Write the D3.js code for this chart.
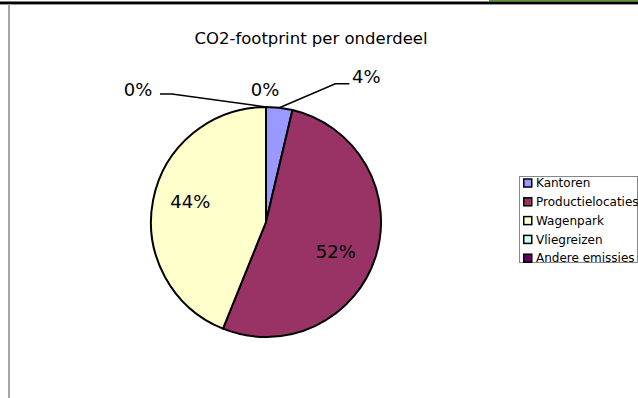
<!DOCTYPE html>
<html>
<head>
<meta charset="utf-8">
<script src="https://cdn.jsdelivr.net/npm/d3@7"></script>
<style>
  body { margin: 0; background: #fff; }
  svg text { font-family: "DejaVu Sans", sans-serif; }
</style>
</head>
<body>
<div id="main"></div>
<script>
var categories = ["Kantoren", "Productielocaties", "Wagenpark", "Vliegreizen", "Andere emissies"];
var values = [3.7, 52.4, 43.9, 0, 0];
var colors = ["#9999ff", "#993366", "#ffffcc", "#ccffff", "#660066"];
var title = "CO2-footprint per onderdeel";

var width = 638, height = 398;

var svg = d3.select("#main").append("svg")
    .attr("width", width)
    .attr("height", height);

// page frame bits
svg.append("rect").attr("x", 489).attr("y", 0).attr("width", 149).attr("height", 1.5).attr("fill", "#5a9a1a");
svg.append("rect").attr("x", 0).attr("y", 1.5).attr("width", width).attr("height", 2.5).attr("fill", "#000");
svg.append("rect").attr("x", 0).attr("y", 4).attr("width", width).attr("height", 1).attr("fill", "#999");
svg.append("rect").attr("x", 8).attr("y", 4).attr("width", 2).attr("height", height).attr("fill", "#a6a6a6");

svg.append("text")
    .attr("x", 311)
    .attr("y", 44)
    .attr("text-anchor", "middle")
    .attr("font-size", 16.5)
    .attr("fill", "#000")
    .text(title);

var cx = 266, cy = 222, r = 115;
var total = d3.sum(values);

var pie = d3.pie().sort(null).value(function(d) { return d; });
var arcs = pie(values);
var arc = d3.arc().innerRadius(0).outerRadius(r);

var g = svg.append("g").attr("transform", "translate(" + cx + "," + cy + ")");

g.selectAll("path")
    .data(arcs)
    .enter().append("path")
    .attr("d", arc)
    .attr("fill", function(d, i) { return colors[i]; })
    .attr("stroke", "#000")
    .attr("stroke-width", 2)
    .attr("stroke-linejoin", "round");

function pct(v) { return Math.round(v / total * 100) + "%"; }

var fs = 18;

// inside labels for the big slices
var inner = d3.arc().innerRadius(r * 0.6).outerRadius(r * 0.6);
var nudge = {1: [4, 9], 2: [-8, -7]};
[1, 2].forEach(function(i) {
    var c = inner.centroid(arcs[i]);
    g.append("text")
        .attr("x", c[0] + nudge[i][0])
        .attr("y", c[1] + nudge[i][1])
        .attr("dy", "0.35em")
        .attr("text-anchor", "middle")
        .attr("font-size", fs)
        .text(pct(values[i]));
});

// outside labels with leader lines
var a0 = arcs[0];
var mid0 = (a0.startAngle + a0.endAngle) / 2;
var ex = Math.sin(mid0) * r, ey = -Math.cos(mid0) * r;
var rimTop = -r;

// Kantoren
g.append("path")
    .attr("d", d3.line()([[ex, ey], [ex + 56, ey - 24], [ex + 70, ey - 24]]))
    .attr("fill", "none").attr("stroke", "#000").attr("stroke-width", 1.5);
g.append("text")
    .attr("x", ex + 87).attr("y", ey - 31)
    .attr("dy", "0.35em").attr("text-anchor", "middle").attr("font-size", fs)
    .text(pct(values[0]));

// Vliegreizen (no leader)
g.append("text")
    .attr("x", -1).attr("y", rimTop - 17)
    .attr("dy", "0.35em").attr("text-anchor", "middle").attr("font-size", fs)
    .text(pct(values[3]));

// Andere emissies
g.append("path")
    .attr("d", d3.line()([[0, rimTop], [-94, rimTop - 13], [-106, rimTop - 13]]))
    .attr("fill", "none").attr("stroke", "#000").attr("stroke-width", 1.5);
g.append("text")
    .attr("x", -128).attr("y", rimTop - 17)
    .attr("dy", "0.35em").attr("text-anchor", "middle").attr("font-size", fs)
    .text(pct(values[4]));

// legend
var lg = svg.append("g").attr("transform", "translate(519,176)");
lg.append("rect")
    .attr("x", 0.5).attr("y", 0.5)
    .attr("width", 118).attr("height", 86)
    .attr("fill", "#fff").attr("stroke", "#888").attr("stroke-width", 1);
var item = lg.selectAll(".item")
    .data(categories)
    .enter().append("g")
    .attr("class", "item")
    .attr("transform", function(d, i) { return "translate(4," + (7 + i * 18.8) + ")"; });
item.append("rect")
    .attr("x", 0.75).attr("y", -4)
    .attr("width", 8).attr("height", 8)
    .attr("fill", function(d, i) { return colors[i]; })
    .attr("stroke", "#000").attr("stroke-width", 1.5);
item.append("text")
    .attr("x", 13).attr("y", 0)
    .attr("dy", "0.35em")
    .attr("font-size", 12)
    .text(function(d) { return d; });
</script>
</body>
</html>
